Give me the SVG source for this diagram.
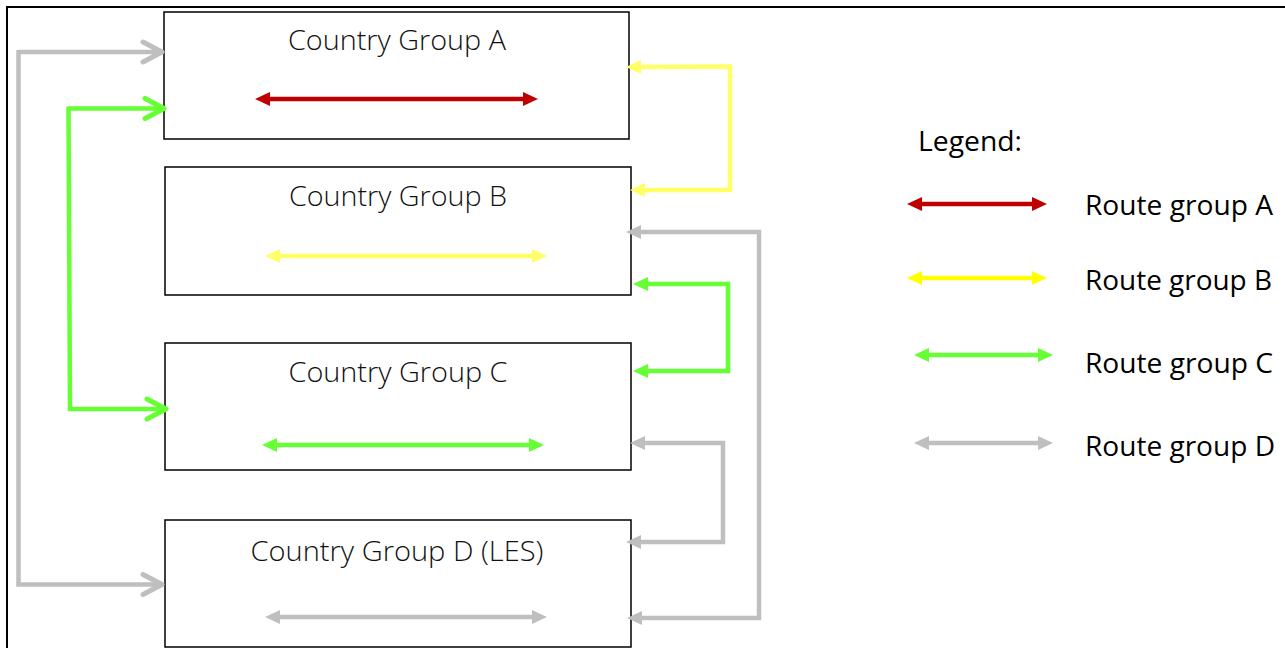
<svg xmlns="http://www.w3.org/2000/svg" width="1285" height="648" viewBox="0 0 1285 648">
<style>
.box{fill:#fff;stroke:#000;stroke-width:1.5}
.title{font-family:"Open Sans","Liberation Sans",sans-serif;font-size:27px;fill:#111;text-anchor:middle;font-weight:300}
.leg{font-family:"Open Sans","Liberation Sans",sans-serif;font-size:27px;fill:#000}
.c{fill:none;stroke-width:4.5;stroke-linejoin:miter}
.red{stroke:#C00000}.yel{stroke:#FFFF66}.yel2{stroke:#FFFF00}.grn{stroke:#66FF33}.gry{stroke:#BFBFBF}
</style>
<defs>
<marker id="mr" markerUnits="userSpaceOnUse" markerWidth="16" markerHeight="14" refX="3" refY="7" orient="auto-start-reverse"><path d="M0,0 L15,7 L0,14 z" fill="#C00000"/></marker>
<marker id="my" markerUnits="userSpaceOnUse" markerWidth="16" markerHeight="14" refX="3" refY="7" orient="auto-start-reverse"><path d="M0,0 L15,7 L0,14 z" fill="#FFFF66"/></marker>
<marker id="my2" markerUnits="userSpaceOnUse" markerWidth="16" markerHeight="14" refX="3" refY="7" orient="auto-start-reverse"><path d="M0,0 L15,7 L0,14 z" fill="#FFFF00"/></marker>
<marker id="mg" markerUnits="userSpaceOnUse" markerWidth="16" markerHeight="14" refX="3" refY="7" orient="auto-start-reverse"><path d="M0,0 L15,7 L0,14 z" fill="#66FF33"/></marker>
<marker id="mq" markerUnits="userSpaceOnUse" markerWidth="16" markerHeight="14" refX="3" refY="7" orient="auto-start-reverse"><path d="M0,0 L15,7 L0,14 z" fill="#BFBFBF"/></marker>
<marker id="og" markerUnits="userSpaceOnUse" markerWidth="30" markerHeight="30" refX="24" refY="13" orient="auto"><path d="M4,3 L23,13 L4,23" fill="none" stroke="#66FF33" stroke-width="5" stroke-linecap="round" stroke-linejoin="round"/></marker>
<marker id="oq" markerUnits="userSpaceOnUse" markerWidth="30" markerHeight="30" refX="24" refY="13" orient="auto"><path d="M4,3 L23,13 L4,23" fill="none" stroke="#BFBFBF" stroke-width="5" stroke-linecap="round" stroke-linejoin="round"/></marker>
</defs>
<rect width="1285" height="648" fill="#fff"/>
<rect x="7" y="7" width="1300" height="700" fill="none" stroke="#000" stroke-width="2"/>

<g id="nodeA"><rect class="box" x="164" y="12" width="465" height="127"/><text class="title" x="397" y="50" textLength="218" lengthAdjust="spacingAndGlyphs">Country Group A</text></g>
<g id="nodeB"><rect class="box" x="165" y="167" width="466" height="128"/><text class="title" x="398" y="206" textLength="218" lengthAdjust="spacingAndGlyphs">Country Group B</text></g>
<g id="nodeC"><rect class="box" x="165" y="343" width="466" height="127"/><text class="title" x="398" y="382" textLength="219" lengthAdjust="spacingAndGlyphs">Country Group C</text></g>
<g id="nodeD"><rect class="box" x="165" y="520" width="466" height="127"/><text class="title" x="397" y="561" textLength="293" lengthAdjust="spacingAndGlyphs">Country Group D (LES)</text></g>

<g id="connectors">
<path class="c red" d="M267,99 L526,99" marker-start="url(#mr)" marker-end="url(#mr)"/>
<path class="c yel" d="M277,256 L535,256" marker-start="url(#my)" marker-end="url(#my)"/>
<path class="c grn" d="M274,445 L532,445" marker-start="url(#mg)" marker-end="url(#mg)"/>
<path class="c gry" d="M277,617 L535,617" marker-start="url(#mq)" marker-end="url(#mq)"/>

<path class="c gry" d="M18.5,52 L163,52" marker-end="url(#oq)"/>
<path class="c gry" d="M18.5,50 L18.5,584.5 L163,584.5" marker-end="url(#oq)"/>
<path class="c grn" d="M68.5,108.5 L165,108.5" marker-end="url(#og)"/>
<path class="c grn" d="M68.5,106.5 L70,409 L167,409" marker-end="url(#og)"/>

<path class="c yel" d="M638,67 L730,66.5 L730,190 L642,190" marker-start="url(#my)" marker-end="url(#my)"/>
<path class="c gry" d="M638,232 L759,232 L759,618 L639,618" marker-start="url(#mq)" marker-end="url(#mq)"/>
<path class="c grn" d="M645,284 L728,284 L728,371 L645,371" marker-start="url(#mg)" marker-end="url(#mg)"/>
<path class="c gry" d="M642,443 L723,443 L723,542 L638,542" marker-start="url(#mq)" marker-end="url(#mq)"/>
</g>

<g id="legend">
<text class="leg" x="918" y="151" textLength="104" lengthAdjust="spacingAndGlyphs">Legend:</text>
<path class="c red" d="M919,204 L1035,204" marker-start="url(#mr)" marker-end="url(#mr)"/>
<path class="c yel2" d="M919,278 L1035,278" marker-start="url(#my2)" marker-end="url(#my2)"/>
<path class="c grn" d="M926,355 L1041,355" marker-start="url(#mg)" marker-end="url(#mg)"/>
<path class="c gry" d="M926,443 L1041,443" marker-start="url(#mq)" marker-end="url(#mq)"/>
<text class="leg" x="1085" y="215" textLength="188" lengthAdjust="spacingAndGlyphs">Route group A</text>
<text class="leg" x="1085" y="290" textLength="187" lengthAdjust="spacingAndGlyphs">Route group B</text>
<text class="leg" x="1085" y="373" textLength="188" lengthAdjust="spacingAndGlyphs">Route group C</text>
<text class="leg" x="1085" y="456" textLength="190" lengthAdjust="spacingAndGlyphs">Route group D</text>
</g>
</svg>
